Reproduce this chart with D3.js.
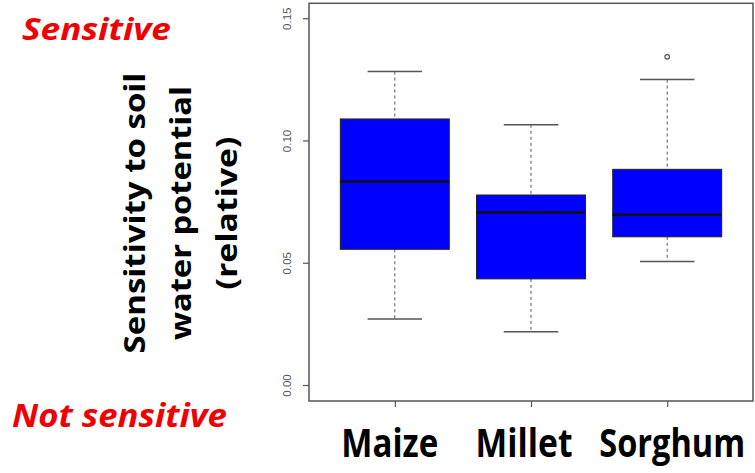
<!DOCTYPE html>
<html lang="en">
<head>
  <meta charset="UTF-8">
  <title>Sensitivity to soil water potential</title>
  <style>
    body { margin: 0; background: #fff; }
  </style>
</head>
<body>
  <svg id="svg" width="755" height="473"></svg>

  <script src="https://d3js.org/d3.v7.min.js"></script>
  <script>
    // box statistics
    const categories = ['Maize', 'Millet', 'Sorghum']
    const whiskerLow = [0.0270, 0.0218, 0.0505]
    const q1 = [0.0555, 0.0434, 0.0606]
    const median = [0.0832, 0.0705, 0.0696]
    const q3 = [0.1088, 0.0777, 0.0882]
    const whiskerHigh = [0.1282, 0.1064, 0.1249]
    const outliers = [[], [], [0.1342]]
    const yTicks = [0.00, 0.05, 0.10, 0.15]

    const boxes = categories.map((c, i) => ({
      cat: c, lo: whiskerLow[i], q1: q1[i], med: median[i], q3: q3[i], hi: whiskerHigh[i], out: outliers[i]
    }))

    const frame = { left: 309, right: 753, top: 3.3, bottom: 401 }

    const xScale = d3.scalePoint()
      .domain(categories)
      .range([frame.left, frame.right])
      .padding(0.63)

    const yScale = d3.scaleLinear()
      .domain([-0.00654, 0.1561])
      .range([frame.bottom, frame.top])

    const boxW = xScale.step() * 0.8
    const capW = boxW / 2

    const svg = d3.select('#svg')

    // horizontal scale factor that brings a text to a given width
    function squeeze(node, width) {
      return width / node.getComputedTextLength()
    }

    // frame
    svg.append('rect')
      .attr('x', frame.left)
      .attr('y', frame.top)
      .attr('width', frame.right - frame.left)
      .attr('height', frame.bottom - frame.top)
      .attr('fill', 'none')
      .attr('stroke', '#555')
      .attr('stroke-width', 1.5)

    // y axis
    const yAxis = svg.append('g')
      .attr('transform', `translate(${frame.left},0)`)
      .call(d3.axisLeft(yScale).tickValues(yTicks).tickFormat(d3.format('.2f')).tickSize(6).tickSizeOuter(0))
    yAxis.select('.domain').remove()
    yAxis.selectAll('line').attr('stroke', '#555').attr('stroke-width', 1.2)
    yAxis.selectAll('text')
      .attr('fill', '#555')
      .attr('font-family', 'Liberation Sans, Arial, sans-serif')
      .attr('font-size', 11.5)
      .attr('text-anchor', 'middle')
      .attr('x', 0)
      .attr('dy', 0)
      .attr('transform', 'translate(-18,0) rotate(-90)')

    // x axis ticks
    const xAxis = svg.append('g')
      .attr('transform', `translate(0,${frame.bottom})`)
      .call(d3.axisBottom(xScale).tickSize(6).tickFormat(''))
    xAxis.select('.domain').remove()
    xAxis.selectAll('line').attr('stroke', '#555').attr('stroke-width', 1.2)

    const g = svg.selectAll('g.box')
      .data(boxes)
      .enter()
      .append('g')
      .attr('class', 'box')

    // whiskers
    g.append('line')
      .attr('x1', d => xScale(d.cat)).attr('x2', d => xScale(d.cat))
      .attr('y1', d => yScale(d.hi)).attr('y2', d => yScale(d.q3))
      .attr('stroke', '#555').attr('stroke-dasharray', '3,3')
    g.append('line')
      .attr('x1', d => xScale(d.cat)).attr('x2', d => xScale(d.cat))
      .attr('y1', d => yScale(d.q1)).attr('y2', d => yScale(d.lo))
      .attr('stroke', '#555').attr('stroke-dasharray', '3,3')

    // caps
    g.selectAll('line.cap')
      .data(d => [d.hi, d.lo].map(v => ({ cat: d.cat, v })))
      .enter()
      .append('line')
      .attr('class', 'cap')
      .attr('x1', d => xScale(d.cat) - capW / 2).attr('x2', d => xScale(d.cat) + capW / 2)
      .attr('y1', d => yScale(d.v)).attr('y2', d => yScale(d.v))
      .attr('stroke', '#555').attr('stroke-width', 1.5)

    // boxes
    g.append('rect')
      .attr('x', d => xScale(d.cat) - boxW / 2)
      .attr('width', boxW)
      .attr('y', d => yScale(d.q3))
      .attr('height', d => yScale(d.q1) - yScale(d.q3))
      .attr('fill', '#0000ff')
      .attr('stroke', '#222')
      .attr('stroke-width', 1)

    // medians
    g.append('line')
      .attr('x1', d => xScale(d.cat) - boxW / 2).attr('x2', d => xScale(d.cat) + boxW / 2)
      .attr('y1', d => yScale(d.med)).attr('y2', d => yScale(d.med))
      .attr('stroke', '#111').attr('stroke-width', 2.5)

    // outliers
    g.selectAll('circle')
      .data(d => d.out.map(v => ({ cat: d.cat, v })))
      .enter()
      .append('circle')
      .attr('cx', d => xScale(d.cat))
      .attr('cy', d => yScale(d.v))
      .attr('r', 2.3)
      .attr('fill', 'none')
      .attr('stroke', '#555')
      .attr('stroke-width', 1.2)

    // category labels (slightly off the ticks, as in the original slide)
    const labelW = { Maize: 97, Millet: 97, Sorghum: 146 }
    const labelDx = { Maize: -5, Millet: -7, Sorghum: 5 }
    svg.selectAll('text.cat')
      .data(categories)
      .enter()
      .append('text')
      .attr('class', 'cat')
      .attr('text-anchor', 'middle')
      .attr('font-family', 'Open Sans, sans-serif')
      .attr('font-weight', 'bold')
      .attr('font-size', 39)
      .text(d => d)
      .attr('transform', function (d) {
        const s = squeeze(this, labelW[d])
        return `translate(${xScale(d) + labelDx[d]},457) scale(${s},1)`
      })

    // y title, three lines
    const titleLines = ['Sensitivity to soil', 'water potential', '(relative)']
    const titleBase = [145, 191, 237]
    const titleLen = [281, 254, 153]
    svg.selectAll('text.ytitle')
      .data(titleLines)
      .enter()
      .append('text')
      .attr('class', 'ytitle')
      .attr('text-anchor', 'middle')
      .attr('font-family', 'Open Sans, sans-serif')
      .attr('font-weight', 'bold')
      .attr('font-size', 29)
      .text(d => d)
      .attr('transform', function (d, i) {
        const s = squeeze(this, titleLen[i])
        return `translate(${titleBase[i]},213) rotate(-90) scale(${s},1)`
      })

    // red notes
    const notes = ['Sensitive', 'Not sensitive']
    const noteX = [22, 12]
    const noteY = [40, 427]
    const noteSize = [30, 33]
    const noteW = [149, 215]
    svg.selectAll('text.note')
      .data(notes)
      .enter()
      .append('text')
      .attr('class', 'note')
      .attr('fill', '#f00000')
      .attr('font-family', 'Open Sans, sans-serif')
      .attr('font-weight', 'bold')
      .attr('font-style', 'italic')
      .attr('font-size', (d, i) => noteSize[i])
      .text(d => d)
      .attr('transform', function (d, i) {
        const s = squeeze(this, noteW[i])
        return `translate(${noteX[i]},${noteY[i]}) scale(${s},1)`
      })
  </script>
</body>
</html>
